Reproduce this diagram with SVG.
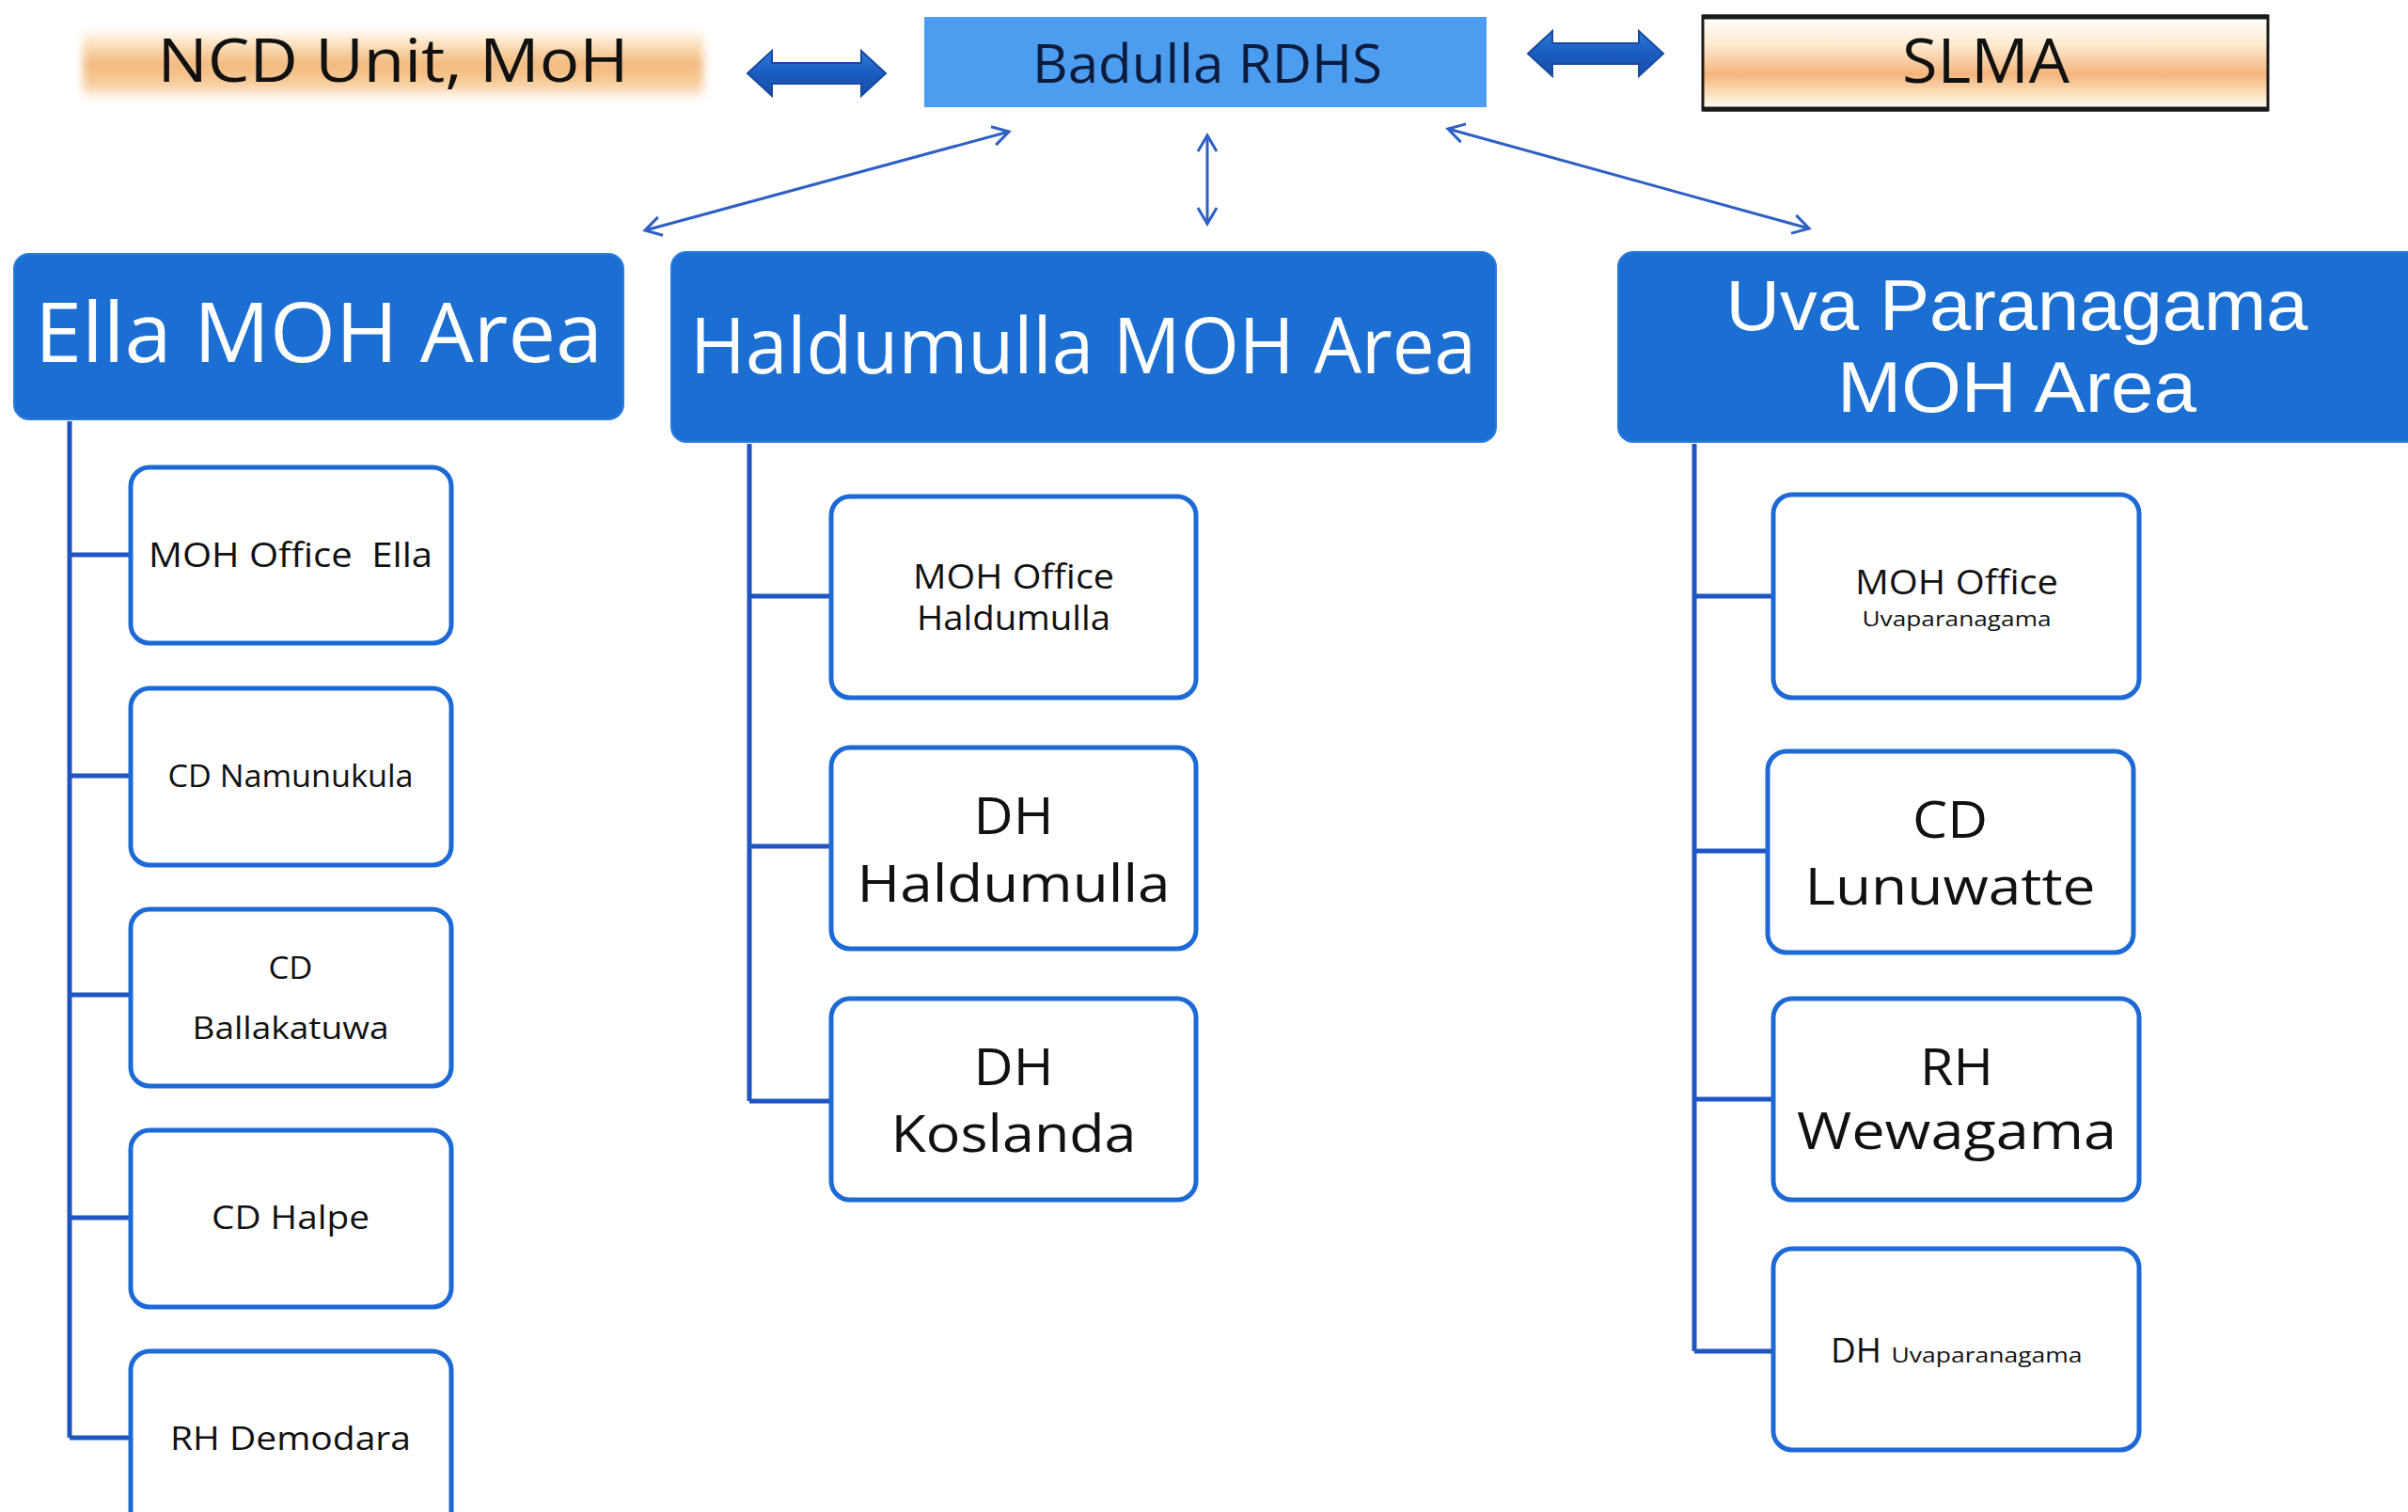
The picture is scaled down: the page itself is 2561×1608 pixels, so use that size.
<svg xmlns="http://www.w3.org/2000/svg" width="2561" height="1608" viewBox="0 0 2561 1608">
<defs>
<linearGradient id="gNcd" x1="0" y1="0" x2="0" y2="1">
<stop offset="0" stop-color="#ffffff"/>
<stop offset="0.2" stop-color="#fbe4c2"/>
<stop offset="0.5" stop-color="#f3b77c"/>
<stop offset="0.8" stop-color="#f7cf9e"/>
<stop offset="1" stop-color="#ffffff"/>
</linearGradient>
<linearGradient id="gSlma" x1="0" y1="0" x2="0" y2="1">
<stop offset="0" stop-color="#ffffff"/>
<stop offset="0.3" stop-color="#fdebd0"/>
<stop offset="0.62" stop-color="#f4b57c"/>
<stop offset="0.85" stop-color="#fce4c4"/>
<stop offset="1" stop-color="#ffffff"/>
</linearGradient>
<linearGradient id="gArrow" x1="0" y1="0" x2="0" y2="1">
<stop offset="0" stop-color="#2f7ad8"/>
<stop offset="0.5" stop-color="#1a5cc0"/>
<stop offset="1" stop-color="#174fa6"/>
</linearGradient>
<filter id="soft" x="-5%" y="-20%" width="110%" height="140%">
<feGaussianBlur stdDeviation="5"/>
</filter>
<marker id="vh" viewBox="-20 -12 24 24" refX="0" refY="0" markerWidth="24" markerHeight="24" markerUnits="userSpaceOnUse" orient="auto-start-reverse">
<path d="M-17,-10 L0,0 L-17,10" fill="none" stroke="#2d5fc4" stroke-width="3"/>
</marker>
</defs>
<style>
text{font-family:"Open Sans","Liberation Sans",sans-serif;text-anchor:middle}
.tight{font-family:"Liberation Sans","Open Sans",sans-serif}
.dark{fill:#111111}
.navy{fill:#0d1b3d}
.white{fill:#ffffff}
.area{fill:#1b6fd3;stroke:#2a7be0;stroke-width:2}
.child{fill:#ffffff;stroke:#1d6ad6;stroke-width:5}
.tree{fill:none;stroke:#1f55c0;stroke-width:5}
.thin{fill:none;stroke:#2d5fc4;stroke-width:3;marker-start:url(#vh);marker-end:url(#vh)}
.thick{fill:url(#gArrow);stroke:#164a9e;stroke-width:2}
</style>
<rect width="2561" height="1608" fill="#ffffff"/>

<g id="ncd">
<rect x="88" y="30" width="660" height="76" fill="url(#gNcd)" filter="url(#soft)"/>
<text x="418" y="87" font-size="64" class="dark" textLength="501" lengthAdjust="spacingAndGlyphs">NCD Unit, MoH</text>
</g>

<g id="rdhs">
<rect x="983" y="18" width="598" height="96" fill="#4c9df0"/>
<text x="1284" y="88" font-size="57" class="navy" textLength="372" lengthAdjust="spacingAndGlyphs">Badulla RDHS</text>
</g>

<g id="slma">
<rect x="1811" y="17" width="601" height="100" fill="url(#gSlma)" stroke="#1a1a1a" stroke-width="3"/>
<line x1="1811" y1="18" x2="2412" y2="18" stroke="#1a1a1a" stroke-width="5"/>
<line x1="1811" y1="116" x2="2412" y2="116" stroke="#1a1a1a" stroke-width="5"/>
<text x="2112" y="88" font-size="66" class="dark" textLength="178" lengthAdjust="spacingAndGlyphs">SLMA</text>
</g>

<g id="ella">
<rect class="area" x="15" y="270" width="648" height="176" rx="16"/>
<text x="339" y="385" font-size="87" class="white" textLength="604" lengthAdjust="spacingAndGlyphs">Ella MOH Area</text>
</g>

<g id="haldumulla">
<rect class="area" x="714" y="268" width="877" height="202" rx="16"/>
<text x="1152" y="397" font-size="82" class="white" textLength="836" lengthAdjust="spacingAndGlyphs">Haldumulla MOH Area</text>
</g>

<g id="uva">
<rect class="area" x="1721" y="268" width="856" height="202" rx="16"/>
<text x="2145" y="351" font-size="76" class="white tight" textLength="619" lengthAdjust="spacingAndGlyphs">Uva Paranagama</text>
<text x="2145" y="438" font-size="76" class="white tight" textLength="382" lengthAdjust="spacingAndGlyphs">MOH Area</text>
</g>

<g id="connectors">
<polygon class="thick" points="795,78 821,54 821,67 916,67 916,54 942,78 916,102 916,89 821,89 821,102"/>
<polygon class="thick" points="1625,57 1651,33 1651,46 1743,46 1743,33 1769,57 1743,81 1743,68 1651,68 1651,81"/>
<line class="thin" x1="1073" y1="140" x2="686" y2="245"/>
<line class="thin" x1="1284" y1="144" x2="1284" y2="238"/>
<line class="thin" x1="1540" y1="137" x2="1924" y2="243"/>
<path class="tree" d="M74,448 V1529 M74,590 H139 M74,825 H139 M74,1058 H139 M74,1295 H139 M74,1529 H139"/>
<path class="tree" d="M797,472 V1171 M797,634 H884 M797,900 H884 M797,1171 H884"/>
<path class="tree" d="M1802,472 V1437 M1802,634 H1886 M1802,905 H1880 M1802,1169 H1886 M1802,1437 H1886"/>
</g>

<g id="moh-ella">
<rect class="child" x="139" y="497" width="341" height="187" rx="20"/>
<text x="309" y="603" font-size="36" class="dark" textLength="302" lengthAdjust="spacingAndGlyphs" xml:space="preserve">MOH Office  Ella</text>
</g>
<g id="cd-namunukula">
<rect class="child" x="139" y="732" width="341" height="188" rx="20"/>
<text x="309" y="837" font-size="32" class="dark" textLength="261" lengthAdjust="spacingAndGlyphs">CD Namunukula</text>
</g>
<g id="cd-ballakatuwa">
<rect class="child" x="139" y="967" width="341" height="188" rx="20"/>
<text x="309" y="1041" font-size="32" class="dark" textLength="47" lengthAdjust="spacingAndGlyphs">CD</text>
<text x="309" y="1105" font-size="32" class="dark" textLength="209" lengthAdjust="spacingAndGlyphs">Ballakatuwa</text>
</g>
<g id="cd-halpe">
<rect class="child" x="139" y="1202" width="341" height="188" rx="20"/>
<text x="309" y="1307" font-size="34" class="dark" textLength="168" lengthAdjust="spacingAndGlyphs">CD Halpe</text>
</g>
<g id="rh-demodara">
<rect class="child" x="139" y="1437" width="341" height="200" rx="20"/>
<text x="309" y="1542" font-size="34" class="dark" textLength="256" lengthAdjust="spacingAndGlyphs">RH Demodara</text>
</g>

<g id="moh-haldumulla">
<rect class="child" x="884" y="528" width="388" height="214" rx="20"/>
<text x="1078" y="626" font-size="36" class="dark" textLength="214" lengthAdjust="spacingAndGlyphs">MOH Office</text>
<text x="1078" y="670" font-size="36" class="dark" textLength="206" lengthAdjust="spacingAndGlyphs">Haldumulla</text>
</g>
<g id="dh-haldumulla">
<rect class="child" x="884" y="795" width="388" height="214" rx="20"/>
<text x="1078" y="887" font-size="54" class="dark" textLength="85" lengthAdjust="spacingAndGlyphs">DH</text>
<text x="1078" y="959" font-size="54" class="dark" textLength="333" lengthAdjust="spacingAndGlyphs">Haldumulla</text>
</g>
<g id="dh-koslanda">
<rect class="child" x="884" y="1062" width="388" height="214" rx="20"/>
<text x="1078" y="1154" font-size="54" class="dark" textLength="85" lengthAdjust="spacingAndGlyphs">DH</text>
<text x="1078" y="1225" font-size="54" class="dark" textLength="261" lengthAdjust="spacingAndGlyphs">Koslanda</text>
</g>

<g id="moh-uva">
<rect class="child" x="1886" y="526" width="389" height="216" rx="20"/>
<text x="2081" y="632" font-size="36" class="dark" textLength="216" lengthAdjust="spacingAndGlyphs">MOH Office</text>
<text x="2081" y="666" font-size="22" class="dark" textLength="201" lengthAdjust="spacingAndGlyphs">Uvaparanagama</text>
</g>
<g id="cd-lunuwatte">
<rect class="child" x="1880" y="799" width="389" height="214" rx="20"/>
<text x="2074" y="891" font-size="54" class="dark" textLength="80" lengthAdjust="spacingAndGlyphs">CD</text>
<text x="2074" y="962" font-size="54" class="dark" textLength="309" lengthAdjust="spacingAndGlyphs">Lunuwatte</text>
</g>
<g id="rh-wewagama">
<rect class="child" x="1886" y="1062" width="389" height="214" rx="20"/>
<text x="2081" y="1154" font-size="54" class="dark" textLength="78" lengthAdjust="spacingAndGlyphs">RH</text>
<text x="2081" y="1222" font-size="54" class="dark" textLength="340" lengthAdjust="spacingAndGlyphs">Wewagama</text>
</g>
<g id="dh-uva">
<rect class="child" x="1886" y="1328" width="389" height="214" rx="20"/>
<text x="1974" y="1449" font-size="36" class="dark" textLength="54" lengthAdjust="spacingAndGlyphs">DH</text>
<text x="2113" y="1449" font-size="22" class="dark" textLength="203" lengthAdjust="spacingAndGlyphs">Uvaparanagama</text>
</g>
</svg>
